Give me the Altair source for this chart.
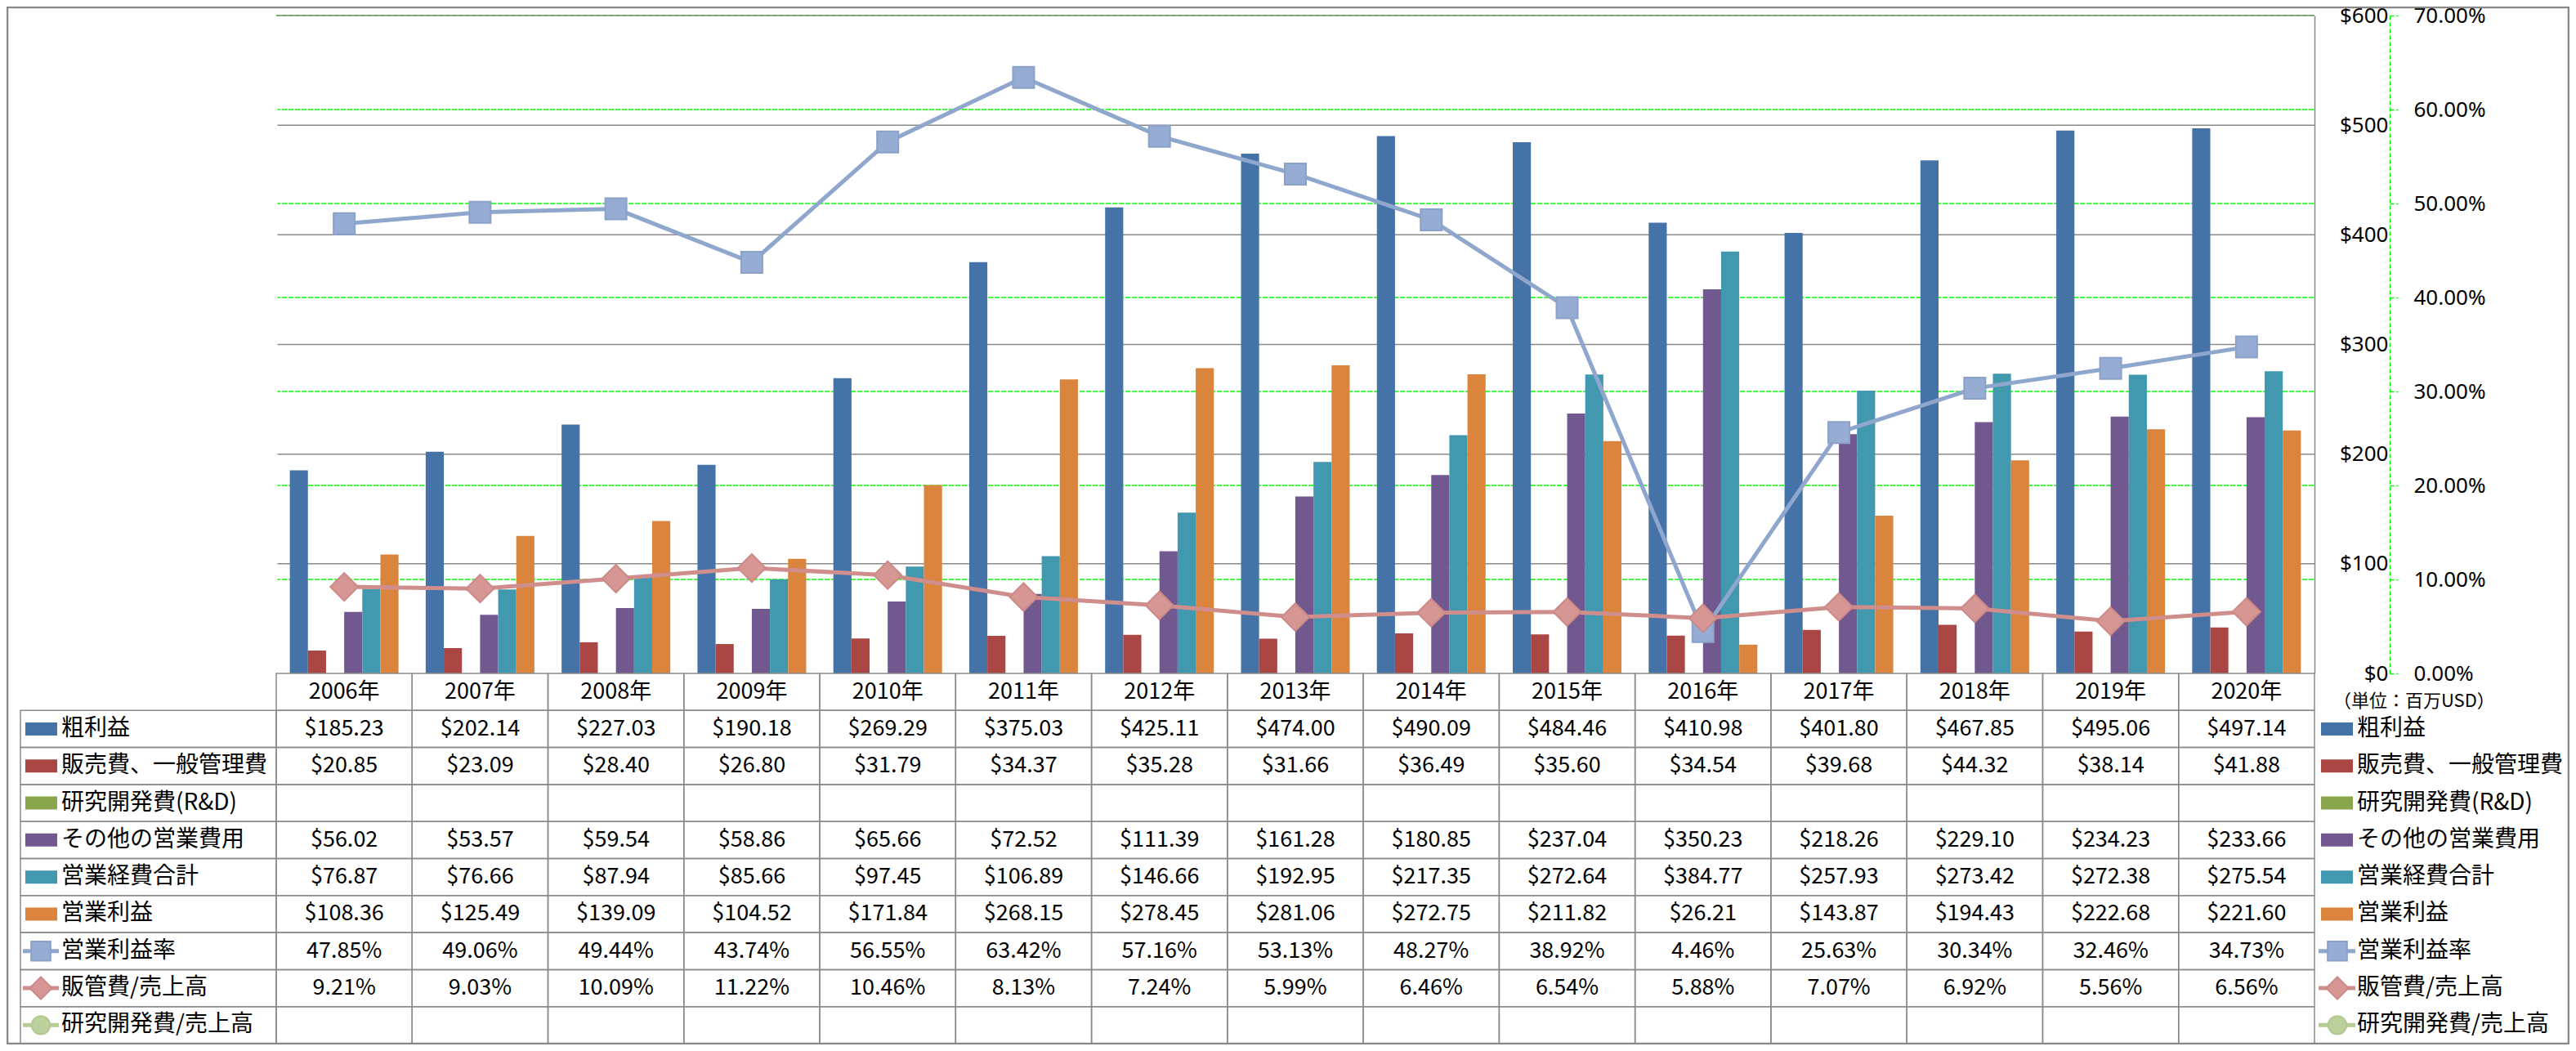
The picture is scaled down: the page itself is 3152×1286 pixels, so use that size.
import altair as alt
import pandas as pd

# ---------------- data ----------------
years = ["2006年", "2007年", "2008年", "2009年", "2010年", "2011年", "2012年", "2013年",
         "2014年", "2015年", "2016年", "2017年", "2018年", "2019年", "2020年"]

gross_profit = [185.23, 202.14, 227.03, 190.18, 269.29, 375.03, 425.11, 474.00,
                490.09, 484.46, 410.98, 401.80, 467.85, 495.06, 497.14]
sga_expense = [20.85, 23.09, 28.40, 26.80, 31.79, 34.37, 35.28, 31.66,
               36.49, 35.60, 34.54, 39.68, 44.32, 38.14, 41.88]
rnd_expense = [None] * 15
other_opex = [56.02, 53.57, 59.54, 58.86, 65.66, 72.52, 111.39, 161.28,
              180.85, 237.04, 350.23, 218.26, 229.10, 234.23, 233.66]
total_opex = [76.87, 76.66, 87.94, 85.66, 97.45, 106.89, 146.66, 192.95,
              217.35, 272.64, 384.77, 257.93, 273.42, 272.38, 275.54]
op_income = [108.36, 125.49, 139.09, 104.52, 171.84, 268.15, 278.45, 281.06,
             272.75, 211.82, 26.21, 143.87, 194.43, 222.68, 221.60]
op_margin_pct = [47.85, 49.06, 49.44, 43.74, 56.55, 63.42, 57.16, 53.13,
                 48.27, 38.92, 4.46, 25.63, 30.34, 32.46, 34.73]
sga_ratio_pct = [9.21, 9.03, 10.09, 11.22, 10.46, 8.13, 7.24, 5.99,
                 6.46, 6.54, 5.88, 7.07, 6.92, 5.56, 6.56]
rnd_ratio_pct = [None] * 15

series_names = ["粗利益", "販売費、一般管理費", "研究開発費(R&D)", "その他の営業費用",
                "営業経費合計", "営業利益", "営業利益率", "販管費/売上高", "研究開発費/売上高"]
bar_series = series_names[:6]
bar_colors = ["#4572A7", "#AA4643", "#89A54E", "#71588F", "#4198AF", "#DB843D"]
bar_values = [gross_profit, sga_expense, rnd_expense, other_opex, total_opex, op_income]
ratio_values = [op_margin_pct, sga_ratio_pct, rnd_ratio_pct]

dollar_ticks = [0, 100, 200, 300, 400, 500, 600]
pct_ticks = [0, 0.1, 0.2, 0.3, 0.4, 0.5, 0.6, 0.7]
unit_label = "（単位：百万USD）"

# line styles: (line colour, marker fill, marker stroke, shape, plot size, legend size)
line_styles = [
    ("#8FA6CD", "#96ACD3", "#8AA1CA", "square", 676, 560),
    ("#CF8E8C", "#D59694", "#CC8987", "diamond", 1156, 740),
    ("#B6CC95", "#BBD09B", "#B2C890", "circle", 600, 500),
]

# ---------------- frames ----------------
bar_rows = []
for name, vals in zip(bar_series, bar_values):
    for y, v in zip(years, vals):
        if v is not None:
            bar_rows.append({"year": y, "series": name, "value": v})
bar_df = pd.DataFrame(bar_rows)

ratio_frames = []
for name, vals in zip(series_names[6:], ratio_values):
    ratio_frames.append(pd.DataFrame(
        [{"year": y, "value": v / 100} for y, v in zip(years, vals) if v is not None]))

cell_text = []
for i, vals in enumerate(bar_values + ratio_values):
    for y, v in zip(years, vals):
        if v is None:
            continue
        txt = f"${v:,.2f}" if i < 6 else f"{v:.2f}%"
        cell_text.append({"year": y, "row_mid": i + 0.5, "text": txt})
cell_text_df = pd.DataFrame(cell_text)

header_df = pd.DataFrame({"year": years, "row_mid": [-0.5] * len(years)})
cells_df = pd.DataFrame([{"year": y, "row_top": r, "row_bot": r + 1}
                         for y in years for r in range(-1, 9)])
label_cells_df = pd.DataFrame([{"row_top": r, "row_bot": r + 1} for r in range(9)])
legend_df = pd.DataFrame({"series": series_names,
                          "row_mid": [i + 0.5 for i in range(9)]})
# gridlines above the baseline (the baseline itself is the table's top edge)
dollar_grid_df = pd.DataFrame({"value": dollar_ticks[1:]})
pct_grid_df = pd.DataFrame({"value": pct_ticks[1:]})

# ---------------- layout constants ----------------
W, H = 2494, 805
FONT = "Noto Sans CJK JP"
GRAY = "#8a8a8a"
GREEN = "#00ff00"

X = alt.X("year:N", sort=years,
          scale=alt.Scale(domain=years, paddingInner=0, paddingOuter=0), axis=None)
ROW = alt.Scale(domain=[-1, 9], range=[805, 1258], nice=False, zero=False)


def ry(field):
    return alt.Y(field, type="quantitative", scale=ROW, axis=None)


COLOR = alt.Color("series:N", scale=alt.Scale(domain=bar_series, range=bar_colors), legend=None)

# ---------------- green percent gridlines (behind everything) ----------------
pct_grid = alt.Chart(pct_grid_df).mark_rect(
    fillOpacity=0, stroke=GREEN, strokeDash=[5, 3], strokeWidth=1.5).encode(
    x=alt.value(0), x2=alt.value(W),
    y=alt.Y("value:Q", scale=alt.Scale(domain=[0, 0.7], nice=False, zero=False), axis=None),
    y2=alt.Y2("value:Q"))

# ---------------- bars with dollar axis ----------------
DOLLAR_Y = alt.Y("value:Q",
                 scale=alt.Scale(domain=[0, 600], nice=False),
                 axis=alt.Axis(orient="right", values=dollar_ticks, format="$,.0f",
                               grid=False, domain=True, domainColor=GRAY, domainWidth=1.5,
                               ticks=False, labelPadding=90, labelAlign="right",
                               labelFont="Noto Sans", labelFontSize=26, labelColor="black",
                               title=None))

dollar_grid = alt.Chart(dollar_grid_df).mark_rect(
    fillOpacity=0, stroke=GRAY, strokeWidth=1.5).encode(
    x=alt.value(0), x2=alt.value(W), y=DOLLAR_Y, y2=alt.Y2("value:Q"))
bars = alt.Chart(bar_df).mark_bar().encode(
    x=X,
    xOffset=alt.XOffset("series:N",
                        scale=alt.Scale(domain=bar_series, paddingInner=0, paddingOuter=0.75)),
    y=DOLLAR_Y,
    color=COLOR,
)
bar_group = alt.layer(dollar_grid, bars)

# ---------------- ratio lines with percent axis ----------------
PCT_Y = alt.Y("value:Q",
              scale=alt.Scale(domain=[0, 0.7], nice=False, zero=False),
              axis=alt.Axis(orient="right", offset=92, values=pct_ticks, format=".2%",
                            grid=False,
                            domain=True, domainColor=GREEN, domainDash=[5, 3], domainWidth=1.5,
                            ticks=True, tickColor=GREEN, tickDash=[5, 3], tickSize=10,
                            tickWidth=1.5, labelPadding=19, labelAlign="left",
                            labelFont="Noto Sans", labelFontSize=26, labelColor="black",
                            title=None))

line_layers = []
for df, (lc, mf, ms, shape, size, _) in zip(ratio_frames[:2], line_styles[:2]):
    line_layers.append(alt.Chart(df).mark_line(color=lc, strokeWidth=5).encode(x=X, y=PCT_Y))
    line_layers.append(alt.Chart(df).mark_point(shape=shape, size=size, filled=True, fill=mf,
                                                stroke=ms, strokeWidth=2, opacity=1)
                       .encode(x=X, y=PCT_Y))
lines = alt.layer(*line_layers)

# ---------------- table ----------------
cells = alt.Chart(cells_df).mark_rect(fillOpacity=0, stroke=GRAY, strokeWidth=1.5).encode(
    x=X, y=ry("row_top"), y2="row_bot:Q")
label_cells = alt.Chart(label_cells_df).mark_rect(fillOpacity=0, stroke=GRAY, strokeWidth=1.5).encode(
    x=alt.value(-313), x2=alt.value(0), y=ry("row_top"), y2="row_bot:Q")
header_text = alt.Chart(header_df).mark_text(font=FONT, fontSize=27, color="black").encode(
    x=X, y=ry("row_mid"), text="year:N")
value_text = alt.Chart(cell_text_df).mark_text(font=FONT, fontSize=27, color="black").encode(
    x=X, y=ry("row_mid"), text="text:N")
label_text = alt.Chart(legend_df).mark_text(font=FONT, fontSize=28, color="black",
                                            align="left").encode(
    x=alt.value(-263), y=ry("row_mid"), text="series:N")
right_text = alt.Chart(legend_df).mark_text(font=FONT, fontSize=28, color="black",
                                            align="left").encode(
    x=alt.value(2546), y=ry("row_mid"), text="series:N")
swatch_src = legend_df[legend_df["series"].isin(bar_series)]
swatch_left = alt.Chart(swatch_src).mark_rule(strokeWidth=16, strokeCap="butt").encode(
    x=alt.value(-307), x2=alt.value(-268), y=ry("row_mid"), color=COLOR)
swatch_right = alt.Chart(swatch_src).mark_rule(strokeWidth=16, strokeCap="butt").encode(
    x=alt.value(2502), x2=alt.value(2541), y=ry("row_mid"), color=COLOR)

legend_layers = []
for name, (lc, mf, ms, shape, _, lsize) in zip(series_names[6:], line_styles):
    src = legend_df[legend_df["series"] == name]
    for x0, x1, xm in [(-310, -266, -288), (2499, 2544, 2522)]:
        legend_layers.append(alt.Chart(src).mark_rule(color=lc, strokeWidth=5).encode(
            x=alt.value(x0), x2=alt.value(x1), y=ry("row_mid")))
        legend_layers.append(alt.Chart(src).mark_point(shape=shape, size=lsize, filled=True,
                                                       fill=mf, stroke=ms, strokeWidth=2,
                                                       opacity=1).encode(
            x=alt.value(xm), y=ry("row_mid")))

unit_text = alt.Chart(pd.DataFrame({"t": [unit_label]})).mark_text(
    font=FONT, fontSize=22, color="black", align="left").encode(
    x=alt.value(2517), y=alt.value(839), text="t:N")

border = alt.Chart(pd.DataFrame({"a": [0]})).mark_rect(
    fillOpacity=0, stroke="#888888", strokeWidth=2.5).encode(
    x=alt.value(-329), x2=alt.value(2805), y=alt.value(-10), y2=alt.value(1258))

# the plot area has no left frame line in the reference: keep its left edge clean
left_edge = alt.Chart(pd.DataFrame({"a": [0]})).mark_rule(color="white", strokeWidth=3).encode(
    x=alt.value(0), y=alt.value(2), y2=alt.value(803))

table = alt.layer(cells, label_cells, header_text, value_text, label_text, right_text,
                  swatch_left, swatch_right, *legend_layers, unit_text, border, left_edge)

chart = alt.layer(pct_grid, bar_group, lines, table).resolve_scale(y="independent").properties(
    width=W, height=H,
    autosize=alt.AutoSizeParams(type="none"),
    padding={"left": 330, "top": 11, "right": 312, "bottom": 454},
).configure_view(strokeWidth=0)

chart.save("out.html", embed_options={"renderer": "svg", "actions": False})
